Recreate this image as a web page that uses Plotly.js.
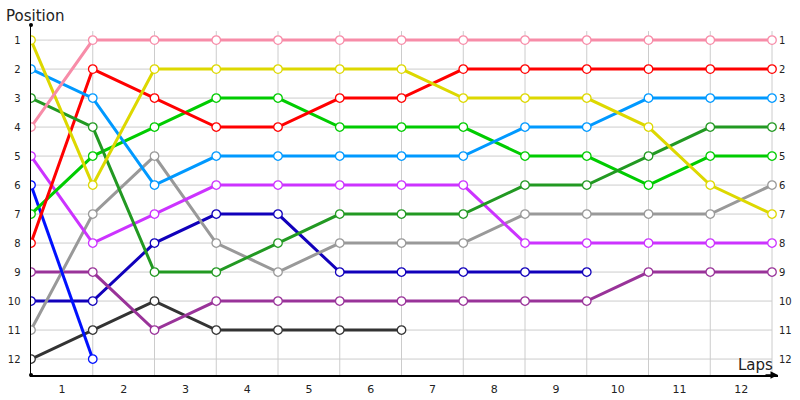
<!DOCTYPE html>
<html>
<head>
<meta charset="utf-8">
<script src="https://cdn.plot.ly/plotly-3.0.1.min.js"></script>
<style>html,body{margin:0;padding:0;background:#fff;}#chart{width:800px;height:400px;}</style>
</head>
<body>
<div id="chart"></div>
<script>
// Lap boundaries (x of each recorded position) and lap labels
const boundaries = [0, 1, 2, 3, 4, 5, 6, 7, 8, 9, 10, 11, 12];
const lapLabels = ['1','2','3','4','5','6','7','8','9','10','11','12'];
const positions = [1, 2, 3, 4, 5, 6, 7, 8, 9, 10, 11, 12];

// Position of each driver at each boundary
const pinkPos      = [4, 1, 1, 1, 1, 1, 1, 1, 1, 1, 1, 1, 1];
const yellowPos    = [1, 6, 2, 2, 2, 2, 2, 3, 3, 3, 4, 6, 7];
const lightBluePos = [2, 3, 6, 5, 5, 5, 5, 5, 4, 4, 3, 3, 3];
const darkGreenPos = [3, 4, 9, 9, 8, 7, 7, 7, 6, 6, 5, 4, 4];
const redPos       = [8, 2, 3, 4, 4, 3, 3, 2, 2, 2, 2, 2, 2];
const greenPos     = [7, 5, 4, 3, 3, 4, 4, 4, 5, 5, 6, 5, 5];
const magentaPos   = [5, 8, 7, 6, 6, 6, 6, 6, 8, 8, 8, 8, 8];
const bluePos      = [6, 12];
const grayPos      = [11, 7, 5, 8, 9, 8, 8, 8, 7, 7, 7, 7, 6];
const purplePos    = [9, 9, 11, 10, 10, 10, 10, 10, 10, 10, 9, 9, 9];
const navyPos      = [10, 10, 8, 7, 7, 9, 9, 9, 9, 9];
const blackPos     = [12, 11, 10, 11, 11, 11, 11];

const series = [
  {pos: blackPos,     color: '#333333'},
  {pos: navyPos,      color: '#1100BB'},
  {pos: purplePos,    color: '#993399'},
  {pos: grayPos,      color: '#999999'},
  {pos: bluePos,      color: '#0011FF'},
  {pos: magentaPos,   color: '#CC33FF'},
  {pos: greenPos,     color: '#00CC00'},
  {pos: redPos,       color: '#FF0000'},
  {pos: darkGreenPos, color: '#229922'},
  {pos: lightBluePos, color: '#0099FF'},
  {pos: yellowPos,    color: '#DDD800'},
  {pos: pinkPos,      color: '#F78CA8'}
];

const traces = series.map(s => ({
  type: 'scatter', mode: 'lines+markers',
  x: boundaries.slice(0, s.pos.length), y: s.pos,
  line: {color: s.color, width: 3},
  marker: {symbol: 'circle', size: 8.5, color: '#ffffff', line: {color: s.color, width: 1.3}},
  hoverinfo: 'skip', showlegend: false
}));
traces.push({type: 'scatter', x: [0], y: [1], yaxis: 'y2', mode: 'markers',
  marker: {opacity: 0}, hoverinfo: 'skip', showlegend: false});

const xMax = boundaries[boundaries.length - 1];
const yTop = 0.48, yBot = 12.55;
const shapes = [];
boundaries.slice(1).forEach(b => shapes.push({type: 'line', xref: 'x', yref: 'y',
  x0: b, x1: b, y0: 0.69, y1: yBot, line: {color: '#cccccc', width: 1}, layer: 'below'}));
positions.forEach(p => shapes.push({type: 'line', xref: 'x', yref: 'y',
  x0: 0, x1: xMax, y0: p, y1: p, line: {color: '#cccccc', width: 1}, layer: 'below'}));
shapes.push({type: 'circle', xref: 'paper', yref: 'paper', xsizemode: 'pixel', ysizemode: 'pixel',
  xanchor: 0, yanchor: 1, x0: -2, x1: 2, y0: -2, y1: 2, fillcolor: '#000', line: {width: 0}});
shapes.push({type: 'circle', xref: 'paper', yref: 'paper', xsizemode: 'pixel', ysizemode: 'pixel',
  xanchor: 0, yanchor: 0, x0: -2, x1: 2, y0: -2, y1: 2, fillcolor: '#000', line: {width: 0}});

const tickFont = {family: 'DejaVu Sans', size: 10, color: '#222'};
const layout = {
  width: 800, height: 400,
  margin: {l: 31, r: 22, t: 25, b: 25},
  paper_bgcolor: '#fff', plot_bgcolor: '#fff',
  xaxis: {range: [0, 12.097], showgrid: false, zeroline: false, showline: true,
    linecolor: '#000', linewidth: 1.5, ticks: '', ticklabelstandoff: 3,
    tickvals: lapLabels.map((l, i) => i + 0.5), ticktext: lapLabels,
    tickfont: {family: 'DejaVu Sans', size: 11, color: '#222'}, fixedrange: true},
  yaxis: {range: [yBot, yTop], showgrid: false, zeroline: false, showline: true,
    linecolor: '#000', linewidth: 1.5, ticks: '', ticklabelstandoff: 7,
    tickvals: positions, ticktext: positions.map(String), tickfont: tickFont},
  yaxis2: {range: [yBot, yTop], overlaying: 'y', side: 'right', showgrid: false,
    zeroline: false, showline: false, ticks: '',
    tickvals: positions, ticktext: positions.map(String), tickfont: tickFont},
  shapes: shapes,
  annotations: [
    {text: 'Position', xref: 'paper', yref: 'paper', x: -0.036, y: 1.025,
      xanchor: 'left', yanchor: 'middle', showarrow: false,
      font: {family: 'DejaVu Sans', size: 15, color: '#222'}},
    {text: 'Laps', xref: 'paper', yref: 'paper', x: 0.996, y: 0.03,
      xanchor: 'right', yanchor: 'middle', showarrow: false,
      font: {family: 'DejaVu Sans', size: 15, color: '#222'}},
    {text: '', xref: 'paper', yref: 'paper', x: 1, y: 0, ax: -14, ay: 0,
      showarrow: true, arrowhead: 2, arrowsize: 1, arrowwidth: 1.5, arrowcolor: '#000'}
  ]
};

Plotly.newPlot('chart', traces, layout, {displayModeBar: false, staticPlot: true});
</script>
</body>
</html>
